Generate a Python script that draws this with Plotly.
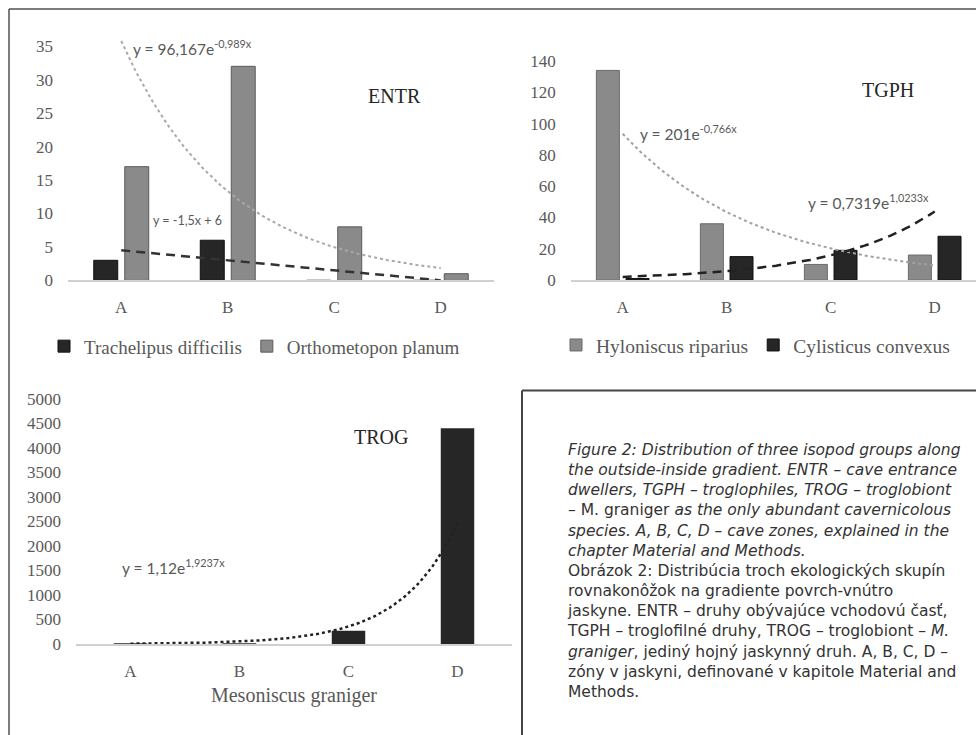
import numpy as np
import plotly.graph_objects as go

# ---------------- data ----------------
ZONES = ["A", "B", "C", "D"]
ZONE_POS = [1, 2, 3, 4]

ENTR_TRACHELIPUS = [3, 6, 0, 0]          # Trachelipus difficilis
ENTR_ORTHOMETOPON = [17, 32, 8, 1]       # Orthometopon planum
TGPH_HYLONISCUS = [134, 36, 10, 16]      # Hyloniscus riparius
TGPH_CYLISTICUS = [1, 15, 19, 28]        # Cylisticus convexus
TROG_MESONISCUS = [18, 16, 270, 4400]    # Mesoniscus graniger

ENTR_TICKS = [0, 5, 10, 15, 20, 25, 30, 35]
TGPH_TICKS = [0, 20, 40, 60, 80, 100, 120, 140]
TROG_TICKS = [0, 500, 1000, 1500, 2000, 2500, 3000, 3500, 4000, 4500, 5000]

EQ_ENTR_EXP = "y = 96,167e<sup>-0,989x</sup>"
EQ_ENTR_LIN = "y = -1,5x + 6"
EQ_TGPH_EXP1 = "y = 201e<sup>-0,766x</sup>"
EQ_TGPH_EXP2 = "y = 0,7319e<sup>1,0233x</sup>"
EQ_TROG_EXP = "y = 1,12e<sup>1,9237x</sup>"

CAPTION = (
    "<i>Figure 2: Distribution of three isopod groups along</i><br>"
    "<i>the outside-inside gradient. ENTR – cave entrance</i><br>"
    "<i>dwellers, TGPH – troglophiles, TROG – troglobiont</i><br>"
    "– M. graniger <i>as the only abundant cavernicolous</i><br>"
    "<i>species. A, B, C, D – cave zones, explained in the</i><br>"
    "<i>chapter Material and Methods.</i><br>"
    "Obrázok 2: Distribúcia troch ekologických skupín<br>"
    "rovnakonôžok na gradiente povrch-vnútro<br>"
    "jaskyne. ENTR – druhy obývajúce vchodovú časť,<br>"
    "TGPH – troglofilné druhy, TROG – troglobiont – <i>M.</i><br>"
    "<i>graniger</i>, jediný hojný jaskynný druh. A, B, C, D –<br>"
    "zóny v jaskyni, definované v kapitole Material and<br>"
    "Methods."
)

# ---------------- helpers ----------------
W, H = 976, 735
def PX(x): return x / W
def PY(y): return 1 - y / H

xs_fit = np.array(ZONE_POS, dtype=float)
curve_x = np.linspace(1, 4, 121)

def exp_curve(vals):
    b, lna = np.polyfit(xs_fit, np.log(np.array(vals, dtype=float)), 1)
    return np.exp(lna) * np.exp(b * curve_x)

def lin_curve(vals):
    m, c = np.polyfit(xs_fit, np.array(vals, dtype=float), 1)
    return m * curve_x + c

SERIF = "Liberation Serif, Times New Roman, serif"
SANS = "Lato, Liberation Sans, sans-serif"
TICKCOL = "#595959"
BLACK = "#262626"
GRAY = "#8a8a8a"

fig = go.Figure()

# ---------------- ENTR ----------------
fig.add_trace(go.Bar(x=ZONE_POS, y=ENTR_TRACHELIPUS, name="Trachelipus difficilis",
                     marker=dict(color=BLACK, line=dict(color="#111111", width=1)),
                     width=0.225, offset=-0.258, xaxis="x", yaxis="y", legend="legend"))
fig.add_trace(go.Bar(x=ZONE_POS, y=ENTR_ORTHOMETOPON, name="Orthometopon planum",
                     marker=dict(color=GRAY, line=dict(color="#5a5a5a", width=1)),
                     width=0.225, offset=0.033, xaxis="x", yaxis="y", legend="legend"))
# ---------------- TGPH ----------------
fig.add_trace(go.Bar(x=ZONE_POS, y=TGPH_HYLONISCUS, name="Hyloniscus riparius",
                     marker=dict(color=GRAY, line=dict(color="#6a6a6a", width=1)),
                     width=0.221, offset=-0.253, xaxis="x2", yaxis="y2", legend="legend2"))
fig.add_trace(go.Bar(x=ZONE_POS, y=TGPH_CYLISTICUS, name="Cylisticus convexus",
                     marker=dict(color=BLACK, line=dict(color="#111111", width=1)),
                     width=0.221, offset=0.032, xaxis="x2", yaxis="y2", legend="legend2"))
# ---------------- TROG ----------------
fig.add_trace(go.Bar(x=ZONE_POS, y=TROG_MESONISCUS, name="Mesoniscus graniger",
                     marker=dict(color=BLACK, line=dict(width=0)),
                     width=0.307, offset=-0.1535, xaxis="x3", yaxis="y3", showlegend=False))

# ---------------- trendlines ----------------
fig.add_trace(go.Scatter(x=curve_x, y=exp_curve(ENTR_ORTHOMETOPON), mode="lines",
                         line=dict(color="#a8a8a8", width=2, dash="dot"),
                         xaxis="x", yaxis="y", showlegend=False, hoverinfo="skip"))
fig.add_trace(go.Scatter(x=curve_x, y=lin_curve(ENTR_TRACHELIPUS), mode="lines",
                         line=dict(color="#333333", width=2.5, dash="9px,6px"),
                         xaxis="x", yaxis="y", showlegend=False, hoverinfo="skip"))
fig.add_trace(go.Scatter(x=curve_x, y=exp_curve(TGPH_HYLONISCUS), mode="lines",
                         line=dict(color="#a0a0a0", width=2, dash="dot"),
                         xaxis="x2", yaxis="y2", showlegend=False, hoverinfo="skip"))
fig.add_trace(go.Scatter(x=curve_x, y=exp_curve(TGPH_CYLISTICUS), mode="lines",
                         line=dict(color="#222222", width=2.5, dash="9px,6px"),
                         xaxis="x2", yaxis="y2", showlegend=False, hoverinfo="skip"))
fig.add_trace(go.Scatter(x=curve_x, y=exp_curve(TROG_MESONISCUS), mode="lines",
                         line=dict(color="#222222", width=2.5, dash="dot"),
                         xaxis="x3", yaxis="y3", showlegend=False, hoverinfo="skip"))

tickfont = dict(family=SERIF, size=17, color=TICKCOL)

def xaxis(domain, rng, anchor):
    return dict(domain=domain, range=rng, anchor=anchor, tickvals=ZONE_POS, ticktext=ZONES,
                showline=True, linecolor="#d0d0d0", linewidth=1.5, showgrid=False,
                zeroline=False, ticks="", tickfont=tickfont, ticklabelstandoff=11,
                fixedrange=True)

def yaxis(domain, rng, tv, anchor):
    return dict(domain=domain, range=rng, anchor=anchor, tickvals=tv,
                ticktext=[str(v) for v in tv],
                showline=False, showgrid=False, zeroline=False, ticks="",
                tickfont=tickfont, ticklabelstandoff=14, fixedrange=True)

fig.update_layout(
    width=W, height=H, margin=dict(l=0, r=0, t=0, b=0),
    paper_bgcolor="white", plot_bgcolor="rgba(0,0,0,0)",
    barmode="overlay",
    xaxis=xaxis([PX(68), PX(494)], [0.5, 4.5], "y"),
    yaxis=yaxis([PY(283), PY(38)], [0, 35 * (283 - 38) / (283 - 45)], ENTR_TICKS, "x"),
    xaxis2=xaxis([PX(570.7), 1.0], [0.5, 0.5 + (976 - 570.7) / 104], "y2"),
    yaxis2=yaxis([PY(282.7), PY(50)], [0, 140 * (282.7 - 50) / (282.7 - 60)], TGPH_TICKS, "x2"),
    xaxis3=dict(xaxis([PX(76), PX(512)], [0.5, 4.5], "y3"),
                title=dict(text="Mesoniscus graniger", standoff=8,
                           font=dict(family=SERIF, size=20, color=TICKCOL))),
    yaxis3=yaxis([PY(652.7), PY(395)], [0, 5000 * (652.7 - 395) / (652.7 - 403.3)], TROG_TICKS, "x3"),
    legend=dict(orientation="h", x=PX(44), y=PY(350), xanchor="left", yanchor="middle",
                font=dict(family=SERIF, size=19, color=TICKCOL), bgcolor="rgba(0,0,0,0)"),
    legend2=dict(orientation="h", x=PX(556), y=PY(349), xanchor="left", yanchor="middle",
                 font=dict(family=SERIF, size=19.5, color=TICKCOL), bgcolor="rgba(0,0,0,0)"),
    showlegend=True,
)

ann = []
def label(text, x, y, size, family, color, xanchor="left"):
    ann.append(dict(text=text, x=PX(x), y=PY(y), xref="paper", yref="paper",
                    xanchor=xanchor, yanchor="middle", showarrow=False,
                    font=dict(family=family, size=size, color=color)))

label("ENTR", 394, 96, 20, SERIF, "#262626", "center")
label("TGPH", 888, 89, 20, SERIF, "#262626", "center")
label("TROG", 381, 442, 20, SERIF, "#262626", "center")
label(EQ_ENTR_EXP, 131, 46, 15.5, SANS, TICKCOL)
label(EQ_ENTR_LIN, 151, 222, 12.5, SANS, TICKCOL)
label(EQ_TGPH_EXP1, 638, 133, 15.5, SANS, TICKCOL)
label(EQ_TGPH_EXP2, 806, 203, 15.5, SANS, TICKCOL)
label(EQ_TROG_EXP, 120, 574, 15.5, SANS, TICKCOL)

ann.append(dict(text=CAPTION, x=PX(565), y=PY(444), xref="paper", yref="paper",
                xanchor="left", yanchor="top", align="left", showarrow=False,
                font=dict(family="DejaVu Sans, Open Sans, sans-serif", size=15.5, color="#333333")))
fig.update_layout(annotations=ann)

# frames
fig.update_layout(shapes=[
    dict(type="line", xref="paper", yref="paper", x0=PX(9), x1=PX(9), y0=PY(7), y1=PY(760),
         line=dict(color="#505050", width=1.5)),
    dict(type="line", xref="paper", yref="paper", x0=PX(9), x1=PX(1000), y0=PY(7), y1=PY(7),
         line=dict(color="#505050", width=1.5)),
    dict(type="line", xref="paper", yref="paper", x0=PX(522), x1=PX(522), y0=PY(395), y1=PY(760),
         line=dict(color="#444444", width=2)),
    dict(type="line", xref="paper", yref="paper", x0=PX(522), x1=PX(1000), y0=PY(395), y1=PY(395),
         line=dict(color="#444444", width=2)),
])

fig.write_html("out.html", config={"displayModeBar": False, "staticPlot": True},
               post_script="document.body.style.margin='0';document.body.style.overflow='hidden';")
